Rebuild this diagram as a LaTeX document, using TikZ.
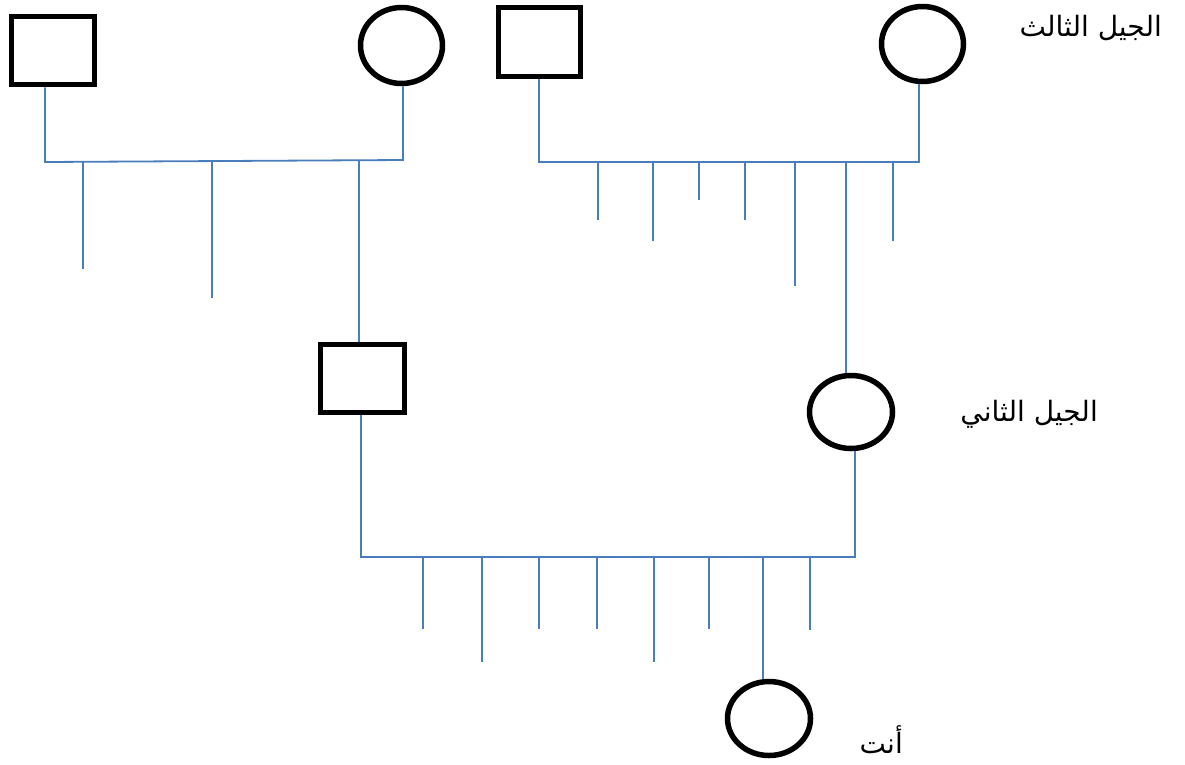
\documentclass[tikz,border=0pt]{standalone}
\usepackage{fontspec}
\newfontfamily\arabicfont[Script=Arabic]{DejaVu Sans}
\TeXXeTstate=1
\usetikzlibrary{shapes.geometric}
\definecolor{linkblue}{HTML}{4A7EBB}
\tikzset{
  male/.style={draw=black,line width=5.5pt,rectangle,inner sep=0pt},
  female/.style={draw=black,line width=5.5pt,ellipse,inner sep=0pt},
  link/.style={draw=linkblue,line width=1.8pt},
  label/.style={font=\arabicfont\fontsize{28}{32}\selectfont,inner sep=0pt,anchor=base east}
}
\begin{document}
\begin{tikzpicture}[x=1pt,y=-1pt]
\useasboundingbox (0,0) rectangle (1185,764);
% people
\node[male,minimum width=83pt,minimum height=68pt] (m1) at (53,50.5) {};
\node[female,minimum width=82pt,minimum height=76pt] (f1) at (401.5,45.5) {};
\node[male,minimum width=82pt,minimum height=69pt] (m2) at (539.5,42) {};
\node[female,minimum width=82pt,minimum height=75pt] (f2) at (922.5,44) {};
\node[male,minimum width=84pt,minimum height=68pt] (m3) at (362.5,378.5) {};
\node[female,minimum width=83pt,minimum height=73pt] (f3) at (851,412) {};
\node[female,minimum width=83pt,minimum height=74pt] (f4) at (769,718.5) {};
% labels
\node[label] (t3) at (1162,36) {\beginR الجيل الثالث\endR};
\node[label] (t2) at (1098,421) {\beginR الجيل الثاني\endR};
\node[label] (t1) at (903,753) {\beginR أنت\endR};
% family 1 (left)
\coordinate (a1) at (45,162);
\coordinate (b1) at (403,160);
\draw[link] (m1.south -| a1) -- (a1) -- (b1) -- (f1.south -| b1);
\coordinate (c1) at (83,161.8); \coordinate (c1e) at (83,269);
\coordinate (c2) at (212,161); \coordinate (c2e) at (212,298);
\coordinate (c3) at (359,160.3);
\draw[link] (c1) -- (c1e);
\draw[link] (c2) -- (c2e);
\draw[link] (c3) -- (m3.north -| c3);
% family 2 (right)
\coordinate (a2) at (539,162);
\coordinate (b2) at (919,162);
\draw[link] (m2.south -| a2) -- (a2) -- (b2) -- (f2.south -| b2);
\foreach \x/\y [count=\i] in {598/220,653/241,699/200,745/220,795/286,893/241}{
  \coordinate (d\i) at (\x,162); \coordinate (d\i e) at (\x,\y);
  \draw[link] (d\i) -- (d\i e);
}
\coordinate (d7) at (846,162);
\draw[link] (d7) -- (f3.north -| d7);
% family 3 (bottom)
\coordinate (a3) at (361,557);
\coordinate (b3) at (855,557);
\draw[link] (m3.south -| a3) -- (a3) -- (b3) -- (f3.south -| b3);
\foreach \x/\y [count=\i] in {423/629,482/662,539/629,597/629,654/662,709/629,810/630}{
  \coordinate (g\i) at (\x,557); \coordinate (g\i e) at (\x,\y);
  \draw[link] (g\i) -- (g\i e);
}
\coordinate (g8) at (763,557);
\draw[link] (g8) -- (f4.north -| g8);
\end{tikzpicture}
\end{document}
